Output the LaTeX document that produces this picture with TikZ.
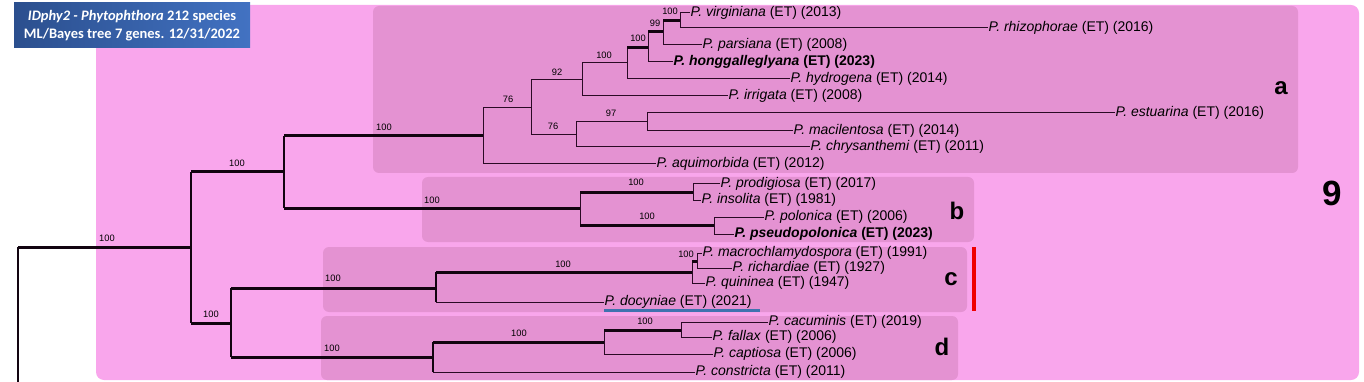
\documentclass[tikz,border=0pt]{standalone}
\usepackage{fontspec}
\setmainfont{Liberation Sans}
\newfontfamily\titlefont{Carlito}
\definecolor{bgpink}{HTML}{F9A6EC}
\definecolor{clpink}{HTML}{E492D2}
\definecolor{ln}{HTML}{2A0A25}
\definecolor{lk}{HTML}{120410}
\definecolor{ttlA}{HTML}{2B4F8E}
\definecolor{ttlB}{HTML}{4272C2}
\definecolor{ubar}{HTML}{3F72AF}
\definecolor{rbar}{HTML}{F00000}
\begin{document}
\begin{tikzpicture}[x=1pt,y=-1pt,
  leaf/.style={anchor=west,inner sep=0.5pt,font=\fontsize{14}{16}\selectfont},
  bs/.style={inner sep=0pt,font=\fontsize{9.3}{10}\selectfont},
  cl/.style={inner sep=0pt,font=\fontsize{24}{26}\selectfont\bfseries},
  tn/.style={draw=ln,line width=1pt},
  tk/.style={draw=lk,line width=3pt},
  vt/.style={draw=lk,line width=1.6pt},
  cladebox/.style={fill=clpink,rounded corners=6pt},
]
\useasboundingbox (0,0) rectangle (1364,382);
% backgrounds
\fill[bgpink,rounded corners=8pt] (96,5) rectangle (1359,380);
\fill[cladebox] (373,6) rectangle (1298,173);
\fill[cladebox] (422,177) rectangle (974,242);
\fill[cladebox] (323,247) rectangle (967,312);
\fill[cladebox] (321,316) rectangle (958,380);
% title
\node[left color=ttlA,right color=ttlB,minimum width=236pt,minimum height=45pt,inner sep=0pt,
      text=white,align=center,font=\titlefont\bfseries\fontsize{14.5}{17.5}\selectfont] (ttl) at (132,25.5)
  {\textit{IDphy2 - Phytophthora} 212 species\\ML/Bayes tree 7 genes. 12/31/2022};
% internal nodes
\coordinate (r0) at (18,247);
\coordinate (rb) at (18,382);
\coordinate (n191) at (191,247);
\coordinate (n284) at (284,172);
\coordinate (n231) at (231,323);
\coordinate (n483) at (483,136);
\coordinate (nb) at (580,208);
\coordinate (nc) at (436,288);
\coordinate (nd) at (433,357);
\coordinate (n531) at (531,108);
\coordinate (n582) at (582,80);
\coordinate (n627) at (627,63);
\coordinate (n648) at (648,48);
\coordinate (n663) at (663,32);
\coordinate (n680) at (680,21);
\coordinate (n576) at (576,135);
\coordinate (n647) at (647,122);
\coordinate (nb1) at (693,192);
\coordinate (nb2) at (714,225);
\coordinate (nc1) at (692,272);
\coordinate (nc2) at (697,261);
\coordinate (nd2) at (604,342);
\coordinate (nd1) at (681,330);
% leaves
\node[leaf] (vir) at (690,13) {\textit{P. virginiana} (ET) (2013)};
\node[leaf] (rhi) at (988,28) {\textit{P. rhizophorae} (ET) (2016)};
\node[leaf] (par) at (702,45) {\textit{P. parsiana} (ET) (2008)};
\node[leaf] (hon) at (673,62) {\bfseries\textit{P. honggalleglyana} (ET) (2023)};
\node[leaf] (hyd) at (790,79) {\textit{P. hydrogena} (ET) (2014)};
\node[leaf] (irr) at (728,96) {\textit{P. irrigata} (ET) (2008)};
\node[leaf] (est) at (1115,113) {\textit{P. estuarina} (ET) (2016)};
\node[leaf] (mac) at (793,131) {\textit{P. macilentosa} (ET) (2014)};
\node[leaf] (chr) at (810,147) {\textit{P. chrysanthemi} (ET) (2011)};
\node[leaf] (aqu) at (656,164) {\textit{P. aquimorbida} (ET) (2012)};
\node[leaf] (pro) at (720,184) {\textit{P. prodigiosa} (ET) (2017)};
\node[leaf] (ins) at (701,200) {\textit{P. insolita} (ET) (1981)};
\node[leaf] (pol) at (764,217) {\textit{P. polonica} (ET) (2006)};
\node[leaf] (pse) at (734,234) {\bfseries\textit{P. pseudopolonica} (ET) (2023)};
\node[leaf] (mcr) at (702,253) {\textit{P. macrochlamydospora} (ET) (1991)};
\node[leaf] (ric) at (732,268) {\textit{P. richardiae} (ET) (1927)};
\node[leaf] (qui) at (705,283) {\textit{P. quininea} (ET) (1947)};
\node[leaf] (doc) at (604,302) {\textit{P. docyniae} (ET) (2021)};
\node[leaf] (cac) at (768,322) {\textit{P. cacuminis} (ET) (2019)};
\node[leaf] (fal) at (712,337) {\textit{P. fallax} (ET) (2006)};
\node[leaf] (cap) at (713,354) {\textit{P. captiosa} (ET) (2006)};
\node[leaf] (con) at (695,372) {\textit{P. constricta} (ET) (2011)};
% underline and red bar
\coordinate (ul1) at (604,310.5);
\coordinate (ul2) at (760,310.5);
\draw[ubar,line width=3pt] (ul1) -- (ul2);
\fill[rbar] (972,247) rectangle (976,311);
% verticals
\draw[vt] (r0) -- (rb);
\draw[vt] (n191|-n284) -- (n191|-n231);
\draw[vt] (n284|-n483) -- (n284|-nb);
\draw[vt] (n231|-nc) -- (n231|-nd);
\draw[tn] (n483|-n531) -- (n483|-aqu.west);
\draw[tn] (n531|-n582) -- (n531|-n576);
\draw[tn] (n582|-n627) -- (n582|-irr.west);
\draw[tn] (n627|-n648) -- (n627|-hyd.west);
\draw[tn] (n648|-n663) -- (n648|-hon.west);
\draw[tn] (n663|-n680) -- (n663|-par.west);
\draw[tn] (n680|-vir.west) -- (n680|-rhi.west);
\draw[tn] (n576|-n647) -- (n576|-chr.west);
\draw[tn] (n647|-est.west) -- (n647|-mac.west);
\draw[tn] (nb|-nb1) -- (nb|-nb2);
\draw[tn] (nb1|-pro.west) -- (nb1|-ins.west);
\draw[tn] (nb2|-pol.west) -- (nb2|-pse.west);
\draw[vt] (nc|-nc1) -- (nc|-doc.west);
\draw[tn] (nc1|-nc2) -- (nc1|-qui.west);
\draw[tn] (nc2|-mcr.west) -- (nc2|-ric.west);
\draw[vt] (nd|-nd2) -- (nd|-con.west);
\draw[tn] (nd2|-nd1) -- (nd2|-cap.west);
\draw[tn] (nd1|-cac.west) -- (nd1|-fal.west);
% horizontals
\draw[tk] (r0) -- (n191);
\draw[tk] (n191|-n284) -- (n284);
\draw[tk] (n191|-n231) -- (n231);
\draw[tk] (n284|-n483) -- (n483);
\draw[tk] (n284|-nb) -- (nb);
\draw[tk] (n231|-nc) -- (nc);
\draw[tk] (n231|-nd) -- (nd);
\draw[tn] (n483|-n531) -- (n531);
\draw[tn] (n483|-aqu.west) -- (aqu.west);
\draw[tn] (n531|-n582) -- (n582);
\draw[tn] (n531|-n576) -- (n576);
\draw[tn] (n582|-n627) -- (n627);
\draw[tn] (n582|-irr.west) -- (irr.west);
\draw[tk] (n627|-n648) -- (n648);
\draw[tn] (n627|-hyd.west) -- (hyd.west);
\draw[tk] (n648|-n663) -- (n663);
\draw[tn] (n648|-hon.west) -- (hon.west);
\draw[tk] (n663|-n680) -- (n680);
\draw[tn] (n663|-par.west) -- (par.west);
\draw[tn] (n680|-vir.west) -- (vir.west);
\draw[tn] (n680|-rhi.west) -- (rhi.west);
\draw[tn] (n576|-n647) -- (n647);
\draw[tn] (n576|-chr.west) -- (chr.west);
\draw[tn] (n647|-est.west) -- (est.west);
\draw[tn] (n647|-mac.west) -- (mac.west);
\draw[tk] (nb|-nb1) -- (nb1);
\draw[tk] (nb|-nb2) -- (nb2);
\draw[tn] (nb1|-pro.west) -- (pro.west);
\draw[tn] (nb1|-ins.west) -- (ins.west);
\draw[tn] (nb2|-pol.west) -- (pol.west);
\draw[tn] (nb2|-pse.west) -- (pse.west);
\draw[tk] (nc|-nc1) -- (nc1);
\draw[tn] (nc|-doc.west) -- (doc.west);
\draw[tk] (nc1|-nc2) -- (nc2);
\draw[tn] (nc1|-qui.west) -- (qui.west);
\draw[tn] (nc2|-mcr.west) -- (mcr.west);
\draw[tn] (nc2|-ric.west) -- (ric.west);
\draw[tk] (nd|-nd2) -- (nd2);
\draw[tn] (nd|-con.west) -- (con.west);
\draw[tk] (nd2|-nd1) -- (nd1);
\draw[tn] (nd2|-cap.west) -- (cap.west);
\draw[tn] (nd1|-cac.west) -- (cac.west);
\draw[tn] (nd1|-fal.west) -- (fal.west);
% bootstrap values
\node[bs] (b1) at (107,238) {100};
\node[bs] (b2) at (237,163) {100};
\node[bs] (b3) at (211,314) {100};
\node[bs] (b4) at (384,127) {100};
\node[bs] (b5) at (432,200) {100};
\node[bs] (b6) at (333,278) {100};
\node[bs] (b7) at (332,348) {100};
\node[bs] (b8) at (508,99) {76};
\node[bs] (b9) at (557,72) {92};
\node[bs] (b10) at (553,126) {76};
\node[bs] (b11) at (604,55) {100};
\node[bs] (b12) at (638,38) {100};
\node[bs] (b13) at (655,23) {99};
\node[bs] (b14) at (670,11) {100};
\node[bs] (b15) at (611,113) {97};
\node[bs] (b16) at (636,182) {100};
\node[bs] (b17) at (647,216) {100};
\node[bs] (b18) at (563,264) {100};
\node[bs] (b19) at (686,254) {100};
\node[bs] (b20) at (519,333) {100};
\node[bs] (b21) at (645,321) {100};
% clade labels
\node[cl] (la) at (1281,88) {a};
\node[cl] (lb) at (957,211) {b};
\node[cl] (lc) at (951,279) {c};
\node[cl] (ld) at (942,347) {d};
\node[inner sep=0pt,font=\fontsize{35}{38}\selectfont\bfseries] (l9) at (1332,193) {9};
\end{tikzpicture}
\end{document}
